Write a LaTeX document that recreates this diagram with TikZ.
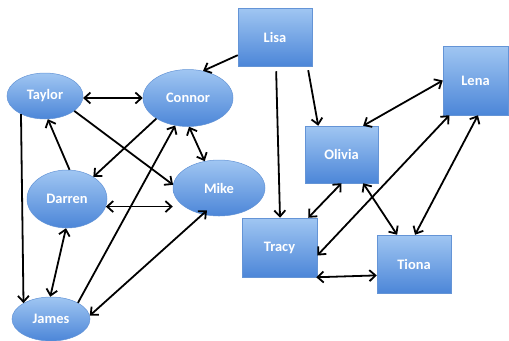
\documentclass[tikz,border=0pt]{standalone}
\usepackage{fontspec}
\setmainfont{Carlito}
\usetikzlibrary{shapes.geometric,arrows.meta}
\definecolor{topc}{RGB}{160,198,242}
\definecolor{botc}{RGB}{76,134,216}
\definecolor{edgec}{RGB}{100,148,214}
\tikzset{
  person/.style={draw=edgec,line width=0.5bp,top color=topc,bottom color=botc,
    text=white,font=\bfseries\fontsize{14.5}{16}\selectfont,inner sep=0pt},
  oval/.style={person,ellipse},
  box/.style={person,rectangle},
  tip/.tip={Straight Barb[length=6bp,width=11bp]},
  link/.style={line width=1.8bp,black,-tip},
  both/.style={line width=1.8bp,black,tip-tip},
}
\begin{document}
\begin{tikzpicture}[x=1bp,y=-1bp]
\useasboundingbox (0,0) rectangle (509,340);
% ellipses
\node[oval,minimum width=76bp,minimum height=46bp] (Taylor) at (45,96) {Taylor};
\node[oval,minimum width=90bp,minimum height=57bp] (Connor) at (188,98) {Connor};
\node[oval,minimum width=92bp,minimum height=56bp] (Mike) at (219,188) {Mike};
\node[oval,minimum width=80bp,minimum height=58bp] (Darren) at (67,199) {Darren};
\node[oval,minimum width=78bp,minimum height=44bp] (James) at (51,319) {James};
% boxes
\node[box,minimum width=74bp,minimum height=58bp] (Lisa) at (275,37) {Lisa};
\node[box,minimum width=65bp,minimum height=69bp] (Lena) at (475.5,80.5) {Lena};
\node[box,minimum width=73bp,minimum height=57bp] (Olivia) at (341.5,154.5) {Olivia};
\node[box,minimum width=75bp,minimum height=59bp] (Tracy) at (279.5,247.5) {Tracy};
\node[box,minimum width=74bp,minimum height=58bp] (Tiona) at (414,264) {Tiona};
% right group
\draw[link] (Lisa.206) -- (Connor.61);
\draw[link,shorten <=5bp] (Lisa.272) -- (Tracy.89);
\draw[link,shorten <=4bp] (Lisa.318) -- (Olivia.129);
\draw[both] (Lena.180) -- (Olivia.53);
\draw[both] (Tracy.348) -- (Lena.233);
\draw[both] (Tiona.88) -- (Lena.274);
\draw[both] (Olivia.307) -- (Tiona.120);
\draw[both] (Olivia.270) -- (Tracy.46);
\draw[both] (Tracy.321) -- (Tiona.197);
% left group
\draw[both] (Taylor.357) -- (Connor.180);
\draw[link] (Taylor.333) -- (Mike.176);
\draw[link] (Taylor.217) -- (James.150);
\draw[link] (Darren.85) -- (Taylor.277);
\draw[link] (Connor.213) -- (Darren.40);
\draw[both] (Connor.272) -- (Mike.118);
\draw[link] (James.31) -- (Connor.245);
\draw[both] (Darren.349) -- (Darren.349 -| Mike.west);
\draw[both] (Darren.268) -- (James.92);
\draw[both,shorten >=-6bp] (James.5) -- (Mike.238);
\end{tikzpicture}
\end{document}
